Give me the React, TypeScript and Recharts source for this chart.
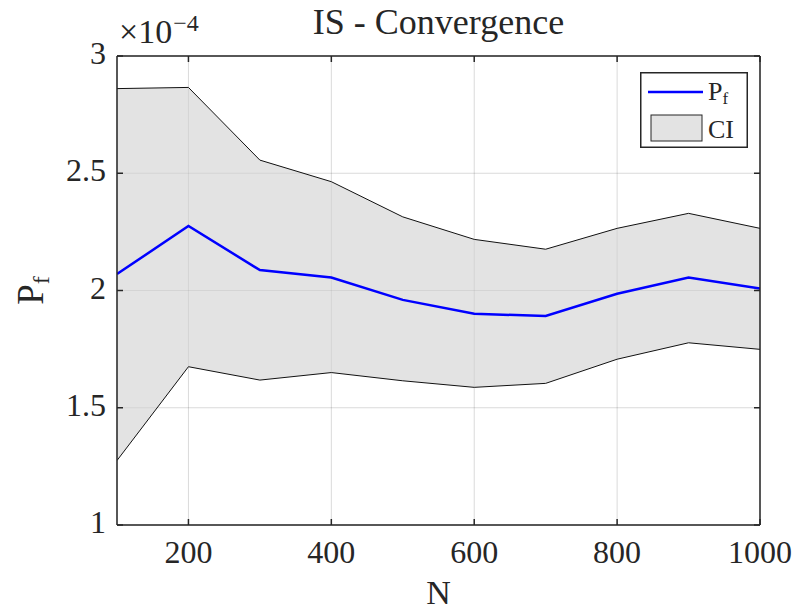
import React from 'react';
import {
  ComposedChart,
  Area,
  Line,
  XAxis,
  YAxis,
  CartesianGrid,
  Legend,
} from 'recharts';

// values in units of 1e-4
const N_VALUES = [100, 200, 300, 400, 500, 600, 700, 800, 900, 1000];
const PF = [2.07, 2.275, 2.087, 2.055, 1.96, 1.901, 1.891, 1.986, 2.055, 2.009];
const CI_UPPER = [2.861, 2.866, 2.556, 2.464, 2.314, 2.218, 2.176, 2.265, 2.329, 2.265];
const CI_LOWER = [1.275, 1.675, 1.618, 1.65, 1.615, 1.587, 1.604, 1.707, 1.777, 1.749];

const X_TICKS = [200, 400, 600, 800, 1000];
const Y_TICKS = [1, 1.5, 2, 2.5, 3];

const FONT = '"Liberation Serif", "Times New Roman", serif';
const AXIS = '#262626';
const TEXT = '#262626';

const chartData = N_VALUES.map((n, i) => ({
  n,
  pf: PF[i],
  ci: [CI_LOWER[i], CI_UPPER[i]],
}));

const BottomTick = (props: any) => {
  const { x, y, payload } = props;
  return (
    <g>
      <line x1={x} y1={y} x2={x} y2={y - 6} stroke={AXIS} strokeWidth={1.5} />
      <text x={x} y={y + 38} textAnchor="middle" fill={TEXT} fontFamily={FONT} fontSize={32}>
        {payload.value}
      </text>
    </g>
  );
};

const TopTick = (props: any) => {
  const { x, y } = props;
  return <line x1={x} y1={y} x2={x} y2={y + 6} stroke={AXIS} strokeWidth={1.5} />;
};

const LeftTick = (props: any) => {
  const { x, y, payload } = props;
  return (
    <g>
      <line x1={x} y1={y} x2={x + 6} y2={y} stroke={AXIS} strokeWidth={1.5} />
      <text x={x - 11} y={y + 8} textAnchor="end" fill={TEXT} fontFamily={FONT} fontSize={32}>
        {payload.value}
      </text>
    </g>
  );
};

const RightTick = (props: any) => {
  const { x, y } = props;
  return <line x1={x} y1={y} x2={x - 6} y2={y} stroke={AXIS} strokeWidth={1.5} />;
};

const TitleLabel = (props: any) => {
  const { x, y, width, height } = props.viewBox;
  const top = y + height;
  return (
    <g>
      <text x={x + width / 2} y={top - 22} textAnchor="middle" fill={TEXT} fontFamily={FONT} fontSize={36}>
        IS - Convergence
      </text>
      <text x={x + 2} y={top - 13} fill={TEXT} fontFamily={FONT} fontSize={34}>
        ×10
        <tspan fontSize={24} dx={1} dy={-12}>−4</tspan>
      </text>
    </g>
  );
};

const XLabel = (props: any) => {
  const { x, y, width } = props.viewBox;
  return (
    <text x={x + width / 2} y={y + 79} textAnchor="middle" fill={TEXT} fontFamily={FONT} fontSize={34}>
      N
    </text>
  );
};

const YLabel = (props: any) => {
  const { y, height } = props.viewBox;
  const cx = 43;
  const cy = y + height / 2;
  return (
    <text
      x={cx}
      y={cy}
      transform={`rotate(-90, ${cx}, ${cy})`}
      textAnchor="middle"
      fill={TEXT}
      fontFamily={FONT}
      fontSize={37}
    >
      P
      <tspan fontSize={24} dy={6}>f</tspan>
    </text>
  );
};

const LegendBox = () => (
  <svg width={108} height={76} style={{ display: 'block' }}>
    <rect x={0.75} y={0.75} width={106.5} height={74.5} fill="#fff" stroke={AXIS} strokeWidth={1.5} />
    <line x1={8} y1={20} x2={63} y2={20} stroke="#0000ff" strokeWidth={2.5} />
    <text x={68} y={28} fill={TEXT} fontFamily={FONT} fontSize={26}>
      P<tspan fontSize={17} dy={4}>f</tspan>
    </text>
    <rect x={11} y={43} width={51} height={26} fill="#e3e3e3" stroke={AXIS} strokeWidth={1} />
    <text x={68} y={66} fill={TEXT} fontFamily={FONT} fontSize={26}>
      CI
    </text>
  </svg>
);

export default function App() {
  return (
    <div style={{ position: 'absolute', left: 0, top: 0, background: '#fff' }}>
      <ComposedChart
        width={797}
        height={613}
        data={chartData}
        margin={{ top: 55, right: 36, bottom: 0, left: 0 }}
      >
        <CartesianGrid stroke="rgba(0,0,0,0.15)" strokeWidth={1} />
        <XAxis
          dataKey="n"
          type="number"
          domain={[100, 1000]}
          ticks={X_TICKS}
          allowDataOverflow
          height={88}
          tickSize={0}
          tickMargin={0}
          tick={BottomTick}
          axisLine={{ stroke: AXIS, strokeWidth: 1.5 }}
          label={<XLabel />}
        />
        <XAxis
          xAxisId="top"
          orientation="top"
          dataKey="n"
          type="number"
          domain={[100, 1000]}
          ticks={X_TICKS}
          allowDataOverflow
          height={1}
          tickSize={0}
          tickMargin={0}
          tick={TopTick}
          axisLine={{ stroke: AXIS, strokeWidth: 1.5 }}
          label={<TitleLabel />}
        />
        <YAxis
          type="number"
          domain={[1, 3]}
          ticks={Y_TICKS}
          allowDataOverflow
          width={117}
          tickSize={0}
          tickMargin={0}
          tick={LeftTick}
          axisLine={{ stroke: AXIS, strokeWidth: 1.5 }}
          label={<YLabel />}
        />
        <YAxis
          yAxisId="right"
          orientation="right"
          type="number"
          domain={[1, 3]}
          ticks={Y_TICKS}
          allowDataOverflow
          width={1}
          tickSize={0}
          tickMargin={0}
          tick={RightTick}
          axisLine={{ stroke: AXIS, strokeWidth: 1.5 }}
        />
        <Area
          dataKey="ci"
          name="CI"
          type="linear"
          fill="#d0d0d0"
          fillOpacity={0.6}
          stroke="#111"
          strokeWidth={1}
          isAnimationActive={false}
        />
        <Line
          dataKey="pf"
          name="Pf"
          type="linear"
          stroke="#0000ff"
          strokeWidth={2.5}
          dot={false}
          activeDot={false}
          isAnimationActive={false}
        />
        <Legend
          layout="vertical"
          align="center"
          verticalAlign="middle"
          content={<LegendBox />}
          wrapperStyle={{ left: 640, top: 72, width: 108, height: 76 }}
        />
      </ComposedChart>
    </div>
  );
}
